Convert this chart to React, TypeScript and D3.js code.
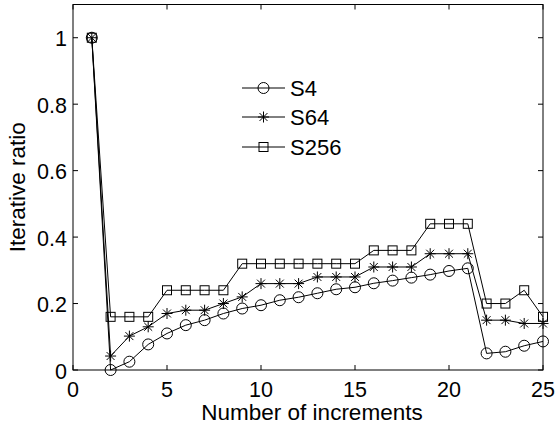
import React from "react";
import * as d3 from "d3";

const increments = [1,2,3,4,5,6,7,8,9,10,11,12,13,14,15,16,17,18,19,20,21,22,23,24,25];
const s4 = [1,0.0,0.025,0.077,0.11,0.135,0.15,0.17,0.185,0.195,0.21,0.219,0.231,0.243,0.249,0.261,0.269,0.278,0.287,0.298,0.306,0.05,0.055,0.073,0.086];
const s64 = [1,0.042,0.102,0.13,0.17,0.18,0.18,0.2,0.22,0.26,0.26,0.26,0.28,0.28,0.28,0.31,0.31,0.31,0.35,0.35,0.35,0.15,0.15,0.14,0.14];
const s256 = [1,0.16,0.16,0.16,0.24,0.24,0.24,0.24,0.32,0.32,0.32,0.32,0.32,0.32,0.32,0.36,0.36,0.36,0.44,0.44,0.44,0.2,0.2,0.24,0.16];
const seriesNames = ["S4", "S64", "S256"];
const markers = ["circle", "star", "square"];
const xTicks = [0,5,10,15,20,25];
const yTicks = [0,0.2,0.4,0.6,0.8,1];

const W = 555, H = 426;
const left = 73, right = 543, top = 4.5, bottom = 370;
const FONT = "Liberation Sans, Arial, Helvetica, sans-serif";

function Marker({ type, x, y }: { type: string; x: number; y: number }) {
  if (type === "circle") return <circle cx={x} cy={y} r={5.5} fill="none" stroke="#000" strokeWidth={1} />;
  if (type === "square") return <rect x={x - 4.5} y={y - 4.5} width={9} height={9} fill="none" stroke="#000" strokeWidth={1} />;
  const r = 5.5, d = r * 0.72;
  return (
    <path
      d={`M${x - r},${y}L${x + r},${y}M${x},${y - r}L${x},${y + r}M${x - d},${y - d}L${x + d},${y + d}M${x - d},${y + d}L${x + d},${y - d}`}
      stroke="#000" strokeWidth={1} fill="none"
    />
  );
}

export default function App() {
  const x = d3.scaleLinear().domain([0, 25]).range([left, right]);
  const y = d3.scaleLinear().domain([0, 1.1]).range([bottom, top]);
  const line = d3.line<number>().x((_, i) => x(increments[i])).y((d) => y(d));
  const data = [s4, s64, s256];
  const legendRows = [88, 117, 147];
  return (
    <svg width={W} height={H} style={{ position: "absolute", left: 0, top: 0, background: "#fff" }} fontFamily={FONT}>
      <rect x={0} y={0} width={W} height={H} fill="#fff" />
      <rect x={left} y={top} width={right - left} height={bottom - top} fill="none" stroke="#000" strokeWidth={1} />
      {xTicks.map((t) => (
        <g key={"xt" + t}>
          <line x1={x(t)} x2={x(t)} y1={bottom} y2={bottom - 5} stroke="#000" />
          <line x1={x(t)} x2={x(t)} y1={top} y2={top + 5} stroke="#000" />
          <text x={x(t)} y={397} textAnchor="middle" fontSize={21.5}>{t}</text>
        </g>
      ))}
      {yTicks.map((t) => (
        <g key={"yt" + t}>
          <line x1={left} x2={left + 5} y1={y(t)} y2={y(t)} stroke="#000" />
          <line x1={right} x2={right - 5} y1={y(t)} y2={y(t)} stroke="#000" />
          <text x={67} y={y(t) + 8.5} textAnchor="end" fontSize={21.5}>{t}</text>
        </g>
      ))}
      <text x={312} y={420} textAnchor="middle" fontSize={22.5}>Number of increments</text>
      <text transform={`translate(25,${(top + bottom) / 2}) rotate(-90)`} textAnchor="middle" fontSize={22.5}>Iterative ratio</text>
      {data.map((s, k) => (
        <g key={"s" + k}>
          <path d={line(s) || ""} fill="none" stroke="#000" strokeWidth={1} />
          {s.map((v, i) => (
            <Marker key={i} type={markers[k]} x={x(increments[i])} y={y(v)} />
          ))}
        </g>
      ))}
      {seriesNames.map((n, k) => (
        <g key={"l" + n}>
          <line x1={242} x2={285} y1={legendRows[k]} y2={legendRows[k]} stroke="#000" strokeWidth={1} />
          <Marker type={markers[k]} x={263.5} y={legendRows[k]} />
          <text x={290} y={legendRows[k] + 8} fontSize={22}>{n}</text>
        </g>
      ))}
    </svg>
  );
}
